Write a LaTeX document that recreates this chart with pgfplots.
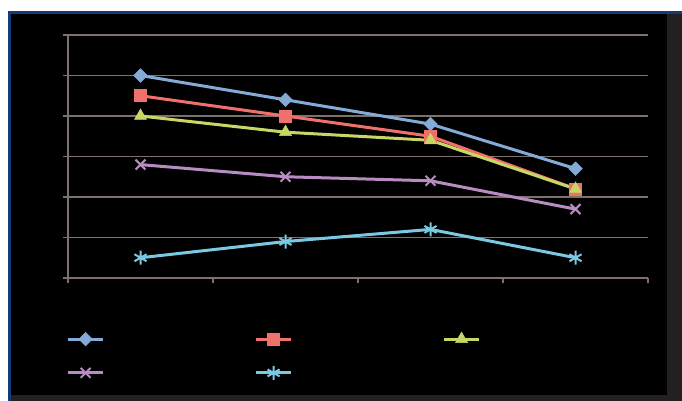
\documentclass[border=0pt]{standalone}
\usepackage{pgfplots}
\pgfplotsset{compat=1.18}
\definecolor{cblue}{RGB}{132,170,216}
\definecolor{cred}{RGB}{240,112,108}
\definecolor{cyel}{RGB}{200,214,100}
\definecolor{cpur}{RGB}{184,140,194}
\definecolor{ccya}{RGB}{122,200,226}
\definecolor{cgrid}{RGB}{128,112,108}
\definecolor{cborder}{RGB}{20,60,120}
\definecolor{cgray}{RGB}{36,32,33}
\begin{document}
\begin{tikzpicture}[x=1pt,y=1pt]
\fill[white] (0,0) rectangle (682,401);
\fill[cborder] (8,0) rectangle (682,390);
\fill[cgray] (11,0) rectangle (682,387);
\fill[black] (11,6) rectangle (667,387);
\begin{axis}[
  at={(68pt,123pt)}, anchor=south west,
  scale only axis, width=580pt, height=243pt,
  xmin=0, xmax=4, ymin=0, ymax=60,
  xtick={0,1,2,3,4}, ytick={0,10,20,30,40,50,60},
  xticklabels={}, yticklabels={},
  axis lines*=left,
  axis line style={cgrid, line width=1.1pt, -},
  tick style={cgrid, line width=1.1pt},
  tick align=outside, major tick length=5pt,
  ymajorgrids, grid style={cgrid, line width=1.1pt},
  clip=false,
  legend image code/.code={\draw[mark repeat=2,mark phase=2,#1] plot coordinates {(0pt,0pt) (17.5pt,0pt) (35pt,0pt)};},
  legend columns=3,
  legend style={draw=none, fill=none, at={(axis description cs:-0.008,-0.321)}, anchor=west,
    nodes={inner sep=0pt}, column sep=0pt, row sep=20pt},
]
\addplot[cblue, line width=3pt, mark=square*, mark size=4.8pt, mark options={solid, rotate=45, line width=0.5pt}] coordinates {(0.5,50) (1.5,44) (2.5,38) (3.5,27)};
\addlegendentry{\hspace*{150pt}}
\addplot[cred, line width=3pt, mark=square*, mark size=6pt, mark options={line width=0.5pt}] coordinates {(0.5,45) (1.5,40) (2.5,35) (3.5,22)};
\addlegendentry{\hspace*{150pt}}
\addplot[cyel, line width=3pt, mark=triangle*, mark size=7pt, mark options={line width=0.5pt}] coordinates {(0.5,40) (1.5,36) (2.5,34) (3.5,22)};
\addlegendentry{\hspace*{150pt}}
\addplot[cpur, line width=3pt, mark=x, mark size=7pt, mark options={line width=2pt}] coordinates {(0.5,28) (1.5,25) (2.5,24) (3.5,17)};
\addlegendentry{\hspace*{150pt}}
\addplot[ccya, line width=3pt, mark=asterisk, mark size=7pt, mark options={line width=2pt}] coordinates {(0.5,5) (1.5,9) (2.5,12) (3.5,5)};
\addlegendentry{\hspace*{150pt}}
\end{axis}
\end{tikzpicture}
\end{document}
